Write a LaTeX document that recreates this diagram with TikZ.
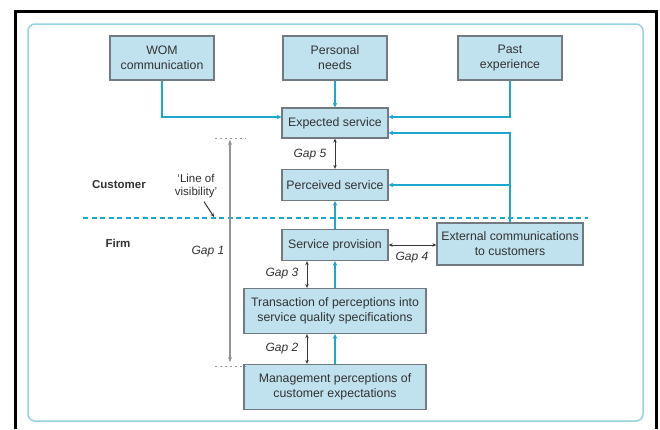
\documentclass[tikz,border=0pt]{standalone}
\usepackage{fontspec}
\setmainfont{Liberation Sans}
\usetikzlibrary{arrows.meta,calc}
\definecolor{boxfill}{RGB}{192,226,238}
\definecolor{boxdraw}{RGB}{112,122,128}
\definecolor{flow}{RGB}{28,168,204}
\definecolor{frameblue}{RGB}{150,210,226}
\definecolor{gapgrey}{RGB}{55,55,55}
\definecolor{txt}{RGB}{50,50,50}
\begin{document}
\begin{tikzpicture}[x=1pt,y=-1pt,
 box/.style={draw=boxdraw, line width=1.3pt, fill=boxfill, inner sep=0pt, align=center,
   font=\fontsize{12.3}{15}\selectfont, text=txt},
 flowline/.style={draw=flow, line width=2pt, -{Stealth[length=4.5pt,width=4.5pt]}},
 gap/.style={draw=gapgrey, line width=1pt, {Stealth[length=4pt,width=3.5pt]}-{Stealth[length=4pt,width=3.5pt]}},
 gaplabel/.style={font=\itshape\fontsize{12}{14}\selectfont, text=txt},
 side/.style={font=\bfseries\fontsize{11.5}{14}\selectfont, text=txt},
]
\useasboundingbox (0,0) rectangle (660,429);
\fill[white] (0,0) rectangle (660,429);
% outer black frame
\draw[line width=3pt] (15,429) -- (15,11) -- (656,11) -- (656,429);
% inner frame
\draw[frameblue, line width=1.5pt, rounded corners=7pt] (28,24) rectangle (643,421);

% boxes
\node[box, minimum width=104pt, minimum height=44pt] (wom) at (162,58) {WOM\\communication};
\node[box, minimum width=104pt, minimum height=44pt] (personal) at (335,58) {Personal\\needs};
\node[box, minimum width=104pt, minimum height=44pt] (past) at (510,58) {Past\\experience};
\node[box, minimum width=106pt, minimum height=30pt] (expected) at (335,123) {Expected service};
\node[box, minimum width=106pt, minimum height=31pt] (perceived) at (335,185) {Perceived service};
\node[box, minimum width=106pt, minimum height=31pt] (provision) at (335,245) {Service provision};
\node[box, minimum width=146pt, minimum height=42pt] (ext) at (510,244) {External communications\\to customers};
\node[box, minimum width=182pt, minimum height=45pt] (transaction) at (335,311) {Transaction of perceptions into\\service quality specifications};
\node[box, minimum width=182pt, minimum height=45pt] (management) at (335,387) {Management perceptions of\\customer expectations};

% line of visibility
\coordinate (lvL) at (83,218);
\coordinate (lvR) at (588,218);
\draw[flow, line width=2.2pt, dash pattern=on 5pt off 3.5pt] (lvL) -- (lvR);

% flow connectors
\draw[flowline] (wom.south) |- ($(expected.west)+(0,-6)$);
\draw[flowline] (personal.south) -- (expected.north);
\draw[flowline] (past.south) |- ($(expected.east)+(0,-6)$);
\draw[flowline] (ext.north) |- ($(expected.east)+(0,10)$);
\draw[flowline] (ext.north) |- (perceived.east);
\draw[flowline] (provision.north) -- (perceived.south);
\draw[flowline] (transaction.north) -- (provision.south);
\draw[flowline] (management.north) -- (transaction.south);

% gaps
\coordinate (g3) at (307,0);
\draw[gap] (expected.south) -- (perceived.north);
\node[gaplabel] (gap5) at (310,155) {Gap 5};
\draw[gap] (provision.south -| g3) -- (transaction.north -| g3);
\node[gaplabel] (gap3) at (282,274) {Gap 3};
\draw[gap] (transaction.south -| g3) -- (management.north -| g3);
\node[gaplabel] (gap2) at (282,349) {Gap 2};
\draw[gap] (provision.east) -- (provision.east -| ext.west);
\node[gaplabel] (gap4) at (412,258) {Gap 4};

% gap 1
\coordinate (d1a) at (215,138);
\coordinate (d1b) at (246,138);
\coordinate (d2a) at (215,366);
\coordinate (d2b) at (246,366);
\coordinate (g1t) at (230,140);
\coordinate (g1b) at (230,362);
\draw[gray!80, line width=1pt, dash pattern=on 2pt off 3pt] (d1a) -- (d1b);
\draw[gray!80, line width=1pt, dash pattern=on 2pt off 3pt] (d2a) -- (d2b);
\draw[draw=gray!85, line width=1.2pt, {Stealth[length=5pt,width=4pt,fill=gapgrey]}-{Stealth[length=5pt,width=4pt,fill=gapgrey]}] (g1t) -- (g1b);
\node[gaplabel] (gap1) at (208,252) {Gap 1};

% side labels
\node[side] (customer) at (119,185) {Customer};
\node[side] (firm) at (118,243) {Firm};
\node[align=center, font=\fontsize{11.5}{13.5}\selectfont, text=txt] (lov) at (196,186) {‘Line of\\visibility’};
\coordinate (lovtip) at (214,217);
\draw[gapgrey, line width=1pt, -{Stealth[length=4pt,width=3.5pt]}] (lov.south) ++(8,0) -- (lovtip);
\end{tikzpicture}
\end{document}
